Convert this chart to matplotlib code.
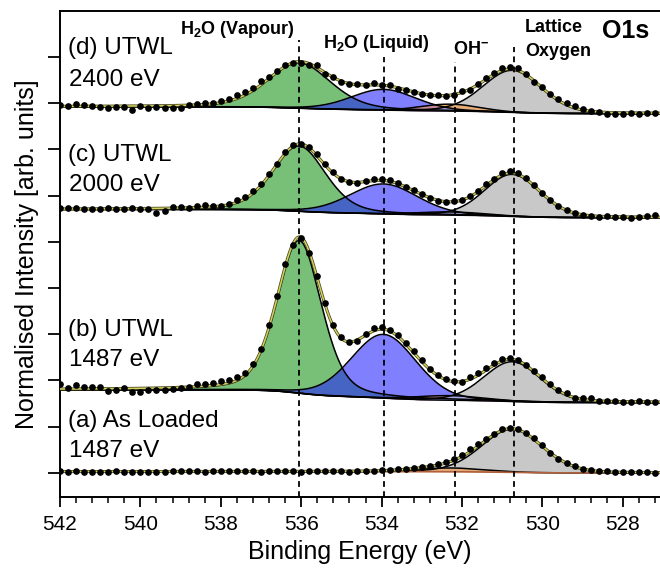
import numpy as np
import matplotlib
matplotlib.use("Agg")
import matplotlib.pyplot as plt
from matplotlib.ticker import MultipleLocator

plt.rcParams['font.family'] = ['Liberation Sans', 'DejaVu Sans']
plt.rcParams['mathtext.fontset'] = 'custom'
plt.rcParams['mathtext.rm'] = 'Liberation Sans'
plt.rcParams['mathtext.bf'] = 'Liberation Sans:bold'

# ---- peak model parameters (binding energy in eV, intensity in offset units) ----
component_names = ["H2O (Vapour)", "H2O (Liquid)", "OH-", "Lattice Oxygen"]
centers = [536.05, 533.95, 532.3, 530.75]
eta = [0.30, 0.15, 0.0, 0.15]          # Lorentzian fraction of each pseudo-Voigt

heights_a = [0.0, 0.0, 0.08, 0.93]
heights_b = [3.30, 1.38, 0.10, 0.86]
heights_c = [1.41, 0.65, 0.07, 0.91]
heights_d = [0.98, 0.45, 0.15, 0.91]

fwhm_a = [1.5, 1.9, 2.0, 1.80]
fwhm_b = [1.30, 1.90, 2.0, 1.65]
fwhm_c = [1.55, 2.00, 2.0, 1.62]
fwhm_d = [1.85, 1.90, 1.7, 1.72]

# background level at the high-BE end (542 eV) and low-BE end (527 eV)
bg_high = [0.03, 1.80, 5.70, 7.92]
bg_low = [0.00, 1.52, 5.52, 7.77]

sample_labels = ["(a) As Loaded", "(b) UTWL", "(c) UTWL", "(d) UTWL"]
photon_labels = ["1487 eV", "1487 eV", "2000 eV", "2400 eV"]

# measured points: energies and residuals from the fitted envelope
energies = np.round(np.linspace(542.0, 527.0, 76), 1)
res_a = [0.01, 0.0, 0.01, 0.0, -0.01, 0.0, 0.0, 0.01, 0.0, -0.01,
         0.0, 0.0, -0.01, 0.0, 0.0, 0.01, 0.0, 0.0, -0.01, 0.0,
         0.0, 0.0, 0.01, 0.0, 0.0, -0.01, 0.0, 0.0, 0.0, 0.01,
         -0.01, 0.0, 0.0, 0.01, 0.0, 0.0, -0.01, 0.0, 0.01, 0.0,
         0.01, 0.01, 0.02, 0.01, 0.02, 0.02, 0.01, 0.02, 0.03, 0.02,
         0.04, 0.05, 0.04, 0.03, 0.02, 0.03, 0.02, 0.01, 0.02, 0.03,
         0.02, 0.0, -0.01, 0.0, 0.01, 0.0, 0.0, 0.0, 0.01, 0.0,
         0.0, 0.0, 0.0, 0.01, 0.0, 0.0]
res_b = [0.10, 0.03, 0.08, 0.05, 0.05, 0.04, -0.05, -0.04, 0.02, -0.07,
         -0.07, -0.04, -0.05, -0.05, -0.03, -0.02, 0.01, 0.05, 0.05, 0.06,
         0.07, 0.07, 0.07, 0.06, 0.05, 0.04, 0.05, 0.05, 0.06, -0.04,
         0.0, -0.03, 0.04, 0.05, 0.04, 0.04, 0.0, -0.02, 0.03, 0.07,
         0.05, 0.03, 0.03, 0.03, 0.03, 0.03, 0.02, 0.01, 0.01, 0.01,
         -0.02, 0.04, 0.04, 0.04, 0.04, 0.05, 0.03, 0.01, 0.02, 0.02,
         0.03, 0.03, 0.02, 0.03, 0.0, 0.03, 0.04, 0.0, 0.0, 0.0,
         0.0, 0.0, 0.02, 0.0, 0.0, 0.0]
res_c = [0.02, 0.03, 0.02, -0.01, -0.01, -0.01, 0.01, 0.0, 0.0, 0.01,
         -0.01, -0.01, -0.09, -0.06, 0.03, 0.03, 0.0, 0.04, 0.04, 0.01,
         0.0, 0.02, 0.06, 0.03, 0.04, 0.02, 0.03, 0.01, 0.03, 0.02,
         0.0, 0.03, 0.05, 0.02, 0.03, 0.0, -0.01, -0.02, 0.02, 0.03,
         0.03, 0.02, 0.02, 0.0, 0.01, 0.0, 0.0, -0.01, 0.0, 0.01,
         0.0, 0.02, 0.02, 0.03, 0.02, 0.04, 0.05, 0.04, 0.03, 0.02,
         0.01, 0.01, 0.01, 0.0, 0.01, 0.0, 0.0, -0.02, 0.01, -0.01,
         -0.01, -0.02, 0.0, 0.03, 0.04, 0.04]
res_d = [0.02, 0.0, 0.04, 0.03, 0.0, -0.02, -0.05, -0.03, -0.02, -0.08,
         0.0, -0.04, -0.03, -0.06, -0.06, -0.06, 0.01, 0.02, 0.02, 0.02,
         0.03, 0.04, 0.07, 0.06, 0.05, 0.08, 0.03, 0.02, 0.03, 0.0,
         -0.02, -0.03, 0.05, -0.03, 0.02, -0.02, 0.0, 0.02, 0.0, 0.04,
         0.01, 0.03, -0.02, -0.01, 0.0, -0.01, 0.01, 0.01, 0.0, -0.01,
         0.03, -0.03, 0.02, 0.03, 0.03, 0.05, 0.04, 0.05, 0.02, -0.03,
         0.02, 0.02, 0.04, 0.04, 0.04, 0.03, 0.01, 0.0, -0.03, -0.02,
         -0.02, 0.0, -0.02, 0.0, 0.0, 0.0]

spectra = [
    (heights_a, fwhm_a, res_a),
    (heights_b, fwhm_b, res_b),
    (heights_c, fwhm_c, res_c),
    (heights_d, fwhm_d, res_d),
]

# reference lines for the four chemical states
marker_energies = [536.05, 533.95, 532.17, 530.70]

fill_colors = ["#78c078", "#8080ff", "#f0a85c", "#c8c8c8"]
overlap_colors = {(0, 1): "#4664c4", (1, 2): "#c48a96", (2, 3): "#e6ad78",
                  (1, 3): "#a8a8e4"}


def pseudo_voigt(x, c, h, w, m):
    t = (x - c) / w
    return h * (m / (1 + 4 * t ** 2) + (1 - m) * np.exp(-4 * np.log(2) * t ** 2))


def shirley_like(x, signal, hi, lo):
    cum = np.concatenate([[0.0], np.cumsum(0.5 * (signal[1:] + signal[:-1]) * np.diff(x))])
    frac = cum / cum[-1] if cum[-1] > 0 else np.zeros_like(cum)
    return lo + (hi - lo) * frac


fig = plt.figure(figsize=(6.6, 5.73), dpi=100)
W, H = 660.0, 573.0
ax = fig.add_axes([60 / W, 1 - 497 / H, 603 / W, 486 / H])

xf = np.linspace(527.0, 542.0, 3001)   # ascending grid

for i, (hts, wds, res) in enumerate(spectra):
    comps = [pseudo_voigt(xf, centers[j], hts[j], wds[j], eta[j]) for j in range(4)]
    total = np.sum(comps, axis=0)
    bg = shirley_like(xf, total, bg_high[i], bg_low[i])

    for j in range(4):
        if hts[j] <= 0:
            continue
        ax.fill_between(xf, bg, bg + comps[j], color=fill_colors[j], lw=0, zorder=2)
    for (p, q), col in overlap_colors.items():
        if hts[p] <= 0 or hts[q] <= 0:
            continue
        ov = np.minimum(comps[p], comps[q])
        ax.fill_between(xf, bg, bg + ov, color=col, lw=0, zorder=3)
    for j in range(4):
        if hts[j] <= 0:
            continue
        ax.plot(xf, bg + comps[j], color="black", lw=1.1, zorder=4)
    if i == 0:
        ax.plot(xf, bg, color="#b0603c", lw=1.2, zorder=4)
    else:
        ax.plot(xf, bg, color="black", lw=1.0, zorder=4)

    env = bg + total
    ax.plot(xf, env, color="#45451c", lw=2.2, zorder=5)
    ax.plot(xf, env, color="#d2d060", lw=1.1, zorder=6)

    pts = np.interp(energies, xf, env) + np.array(res)
    ax.plot(energies, pts, "o", color="black", ms=3.8, mec="black", zorder=7)

# dashed reference lines
line_tops = [0.940, 0.905, 0.895, 0.926]
for e, top in zip(marker_energies, line_tops):
    ax.axvline(e, ymin=0, ymax=top, color="black", lw=1.3, ls=(0, (3.2, 2.4)), zorder=8)

ax.set_xlim(542, 527)
ax.set_ylim(-0.52, 9.99)
ax.xaxis.set_major_locator(MultipleLocator(2))
ax.xaxis.set_minor_locator(MultipleLocator(0.4))
ax.set_yticks(range(10))
ax.set_yticklabels([])
ax.tick_params(axis="x", which="major", direction="out", length=7, width=1.3,
               labelsize=15, pad=6)
ax.tick_params(axis="x", which="minor", direction="out", length=4, width=1.1)
ax.tick_params(axis="y", which="major", direction="out", length=9, width=1.3)
for s in ax.spines.values():
    s.set_linewidth(1.4)
ax.spines["right"].set_visible(False)


def fx(px):
    return px / W


def fy(py):
    return 1 - py / H


fig.text(fx(27), fy(254), "Normalised Intensity [arb. units]", rotation=90,
         ha="center", va="center", fontsize=18)
fig.text(fx(360), fy(552), "Binding Energy (eV)", ha="center", va="center", fontsize=18)

label_rows = [(421, 451), (330, 360), (155, 185), (48, 80)]
for (y1, y2), s1, s2 in zip(label_rows, sample_labels, photon_labels):
    fig.text(fx(68), fy(y1), s1, ha="left", va="center", fontsize=17.5)
    fig.text(fx(69), fy(y2), s2, ha="left", va="center", fontsize=17.5)

bold = dict(fontsize=13, fontweight="bold", ha="left", va="center")
fig.text(fx(180), fy(30), r"H$_{\mathbf{2}}$O (Vapour)", **bold)
fig.text(fx(323), fy(43), r"H$_{\mathbf{2}}$O (Liquid)", **bold)
fig.text(fx(453), fy(50), r"OH$^{\mathbf{-}}$", **bold)
fig.text(fx(525), fy(27), "Lattice", **bold)
fig.text(fx(525), fy(52), "Oxygen", **bold)
fig.text(fx(602), fy(31), "O1s", fontsize=18, fontweight="bold", ha="left", va="center")

fig.savefig("out.png", dpi=100)
